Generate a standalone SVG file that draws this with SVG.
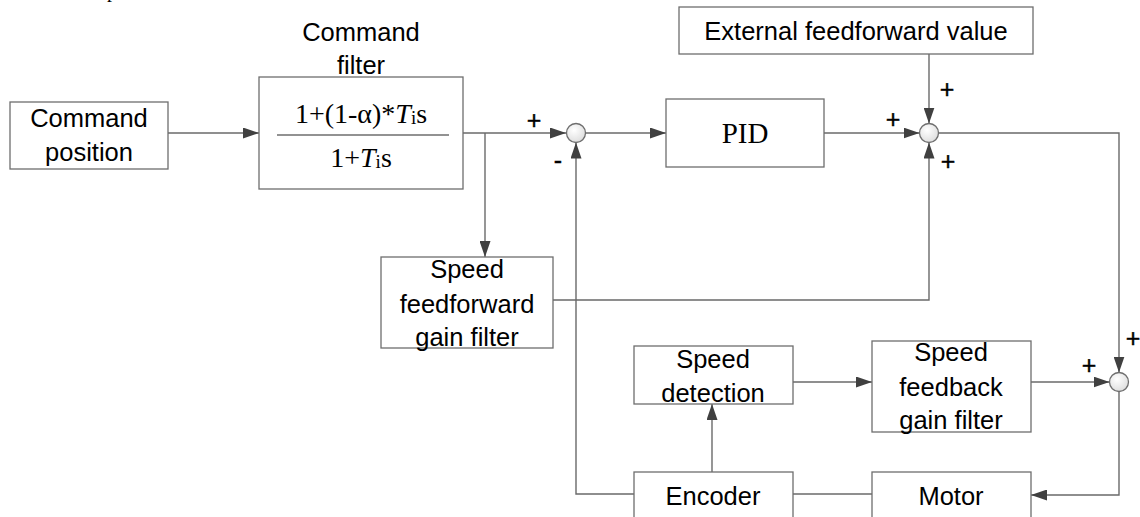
<svg xmlns="http://www.w3.org/2000/svg" width="1140" height="517" viewBox="0 0 1140 517">
<defs>
<marker id="arr" markerUnits="userSpaceOnUse" markerWidth="16" markerHeight="11" refX="16" refY="5.5" orient="auto">
<path d="M0,0 L16,5.5 L0,11 z" fill="#404040"/>
</marker>
<radialGradient id="sumg" cx="0.4" cy="0.35" r="0.7">
<stop offset="0" stop-color="#ffffff"/>
<stop offset="1" stop-color="#dcdcdc"/>
</radialGradient>
<style>
.box{fill:#fff;stroke:#6e6e6e;stroke-width:1.3}
.sum{fill:url(#sumg);stroke:#6e6e6e;stroke-width:1.3}
.ln{fill:none;stroke:#6a6a6a;stroke-width:1.4}
.t{font-family:"Liberation Sans",Arial,sans-serif;font-size:25.5px;fill:#000;text-anchor:middle}
.m{font-family:"Liberation Serif","Times New Roman",serif;font-size:28px;fill:#000;text-anchor:middle}
.sub{font-size:19px}
.pid{font-size:29px}
.sg{font-family:"Liberation Sans",Arial,sans-serif;font-size:25px;fill:#000;text-anchor:middle;stroke:#000;stroke-width:0.4}
</style>
</defs>
<rect width="1140" height="517" fill="#fff"/>
<text x="107" y="-3" font-family="Liberation Serif,serif" font-size="20" fill="#000">p</text>

<g id="connectors">
<line class="ln" x1="168" y1="133" x2="259" y2="133" marker-end="url(#arr)"/>
<line class="ln" x1="463" y1="133" x2="566" y2="133" marker-end="url(#arr)"/>
<line class="ln" x1="485" y1="133" x2="485" y2="257" marker-end="url(#arr)"/>
<line class="ln" x1="585.5" y1="133" x2="666" y2="133" marker-end="url(#arr)"/>
<line class="ln" x1="824" y1="133" x2="919.5" y2="133" marker-end="url(#arr)"/>
<line class="ln" x1="929" y1="54" x2="929" y2="123.5" marker-end="url(#arr)"/>
<polyline class="ln" points="553,300 929,300 929,142.5" marker-end="url(#arr)"/>
<polyline class="ln" points="938.5,133 1119,133 1119,372.5" marker-end="url(#arr)"/>
<line class="ln" x1="1031" y1="382" x2="1109.5" y2="382" marker-end="url(#arr)"/>
<line class="ln" x1="793" y1="382" x2="872" y2="382" marker-end="url(#arr)"/>
<line class="ln" x1="712" y1="472" x2="712" y2="404" marker-end="url(#arr)"/>
<polyline class="ln" points="634,494 576,494 576,142.5" marker-end="url(#arr)"/>
<line class="ln" x1="793" y1="494" x2="872" y2="494"/>
<polyline class="ln" points="1119,391.5 1119,495 1031,495" marker-end="url(#arr)"/>
</g>

<g id="command-position">
<rect class="box" x="10" y="102" width="158" height="67"/>
<text class="t" x="89" y="127">Command</text>
<text class="t" x="89" y="161">position</text>
</g>

<g id="command-filter">
<text class="t" x="361" y="41">Command</text>
<text class="t" x="361" y="74">filter</text>
<rect class="box" x="259" y="77" width="204" height="112"/>
<text class="m" x="361" y="123">1+(1-α)*<tspan font-style="italic">T</tspan><tspan class="sub" dy="1">i</tspan><tspan dy="-1">s</tspan></text>
<line x1="277" y1="135" x2="449" y2="135" stroke="#6e6e6e" stroke-width="1.3"/>
<text class="m" x="361" y="167">1+<tspan font-style="italic">T</tspan><tspan class="sub" dy="1">i</tspan><tspan dy="-1">s</tspan></text>
</g>

<g id="sum1">
<circle class="sum" cx="576" cy="133" r="9.5"/>
<text class="sg" x="534" y="129">+</text>
<text class="sg" x="558" y="169">-</text>
</g>

<g id="pid">
<rect class="box" x="666" y="99" width="158" height="68"/>
<text class="m pid" x="745" y="143">PID</text>
</g>

<g id="external-feedforward">
<rect class="box" x="679" y="7" width="354" height="47"/>
<text class="t" x="856" y="40">External feedforward value</text>
</g>

<g id="sum2">
<circle class="sum" cx="929" cy="133" r="9.5"/>
<text class="sg" x="893" y="128">+</text>
<text class="sg" x="947" y="98">+</text>
<text class="sg" x="948" y="170">+</text>
</g>

<g id="speed-feedforward-gain-filter">
<rect class="box" x="381" y="257" width="172" height="91"/>
<text class="t" x="467" y="278">Speed</text>
<text class="t" x="467" y="313">feedforward</text>
<text class="t" x="467" y="346">gain filter</text>
</g>

<g id="speed-detection">
<rect class="box" x="634" y="346" width="159" height="58"/>
<text class="t" x="713" y="368">Speed</text>
<text class="t" x="713" y="402">detection</text>
</g>

<g id="speed-feedback-gain-filter">
<rect class="box" x="872" y="341" width="159" height="91"/>
<text class="t" x="951" y="361">Speed</text>
<text class="t" x="951" y="396">feedback</text>
<text class="t" x="951" y="429">gain filter</text>
</g>

<g id="sum3">
<circle class="sum" cx="1119" cy="382" r="9.5"/>
<text class="sg" x="1133" y="347">+</text>
<text class="sg" x="1089" y="374">+</text>
</g>

<g id="encoder">
<rect class="box" x="634" y="472" width="159" height="60"/>
<text class="t" x="713" y="505">Encoder</text>
</g>

<g id="motor">
<rect class="box" x="872" y="472" width="159" height="60"/>
<text class="t" x="951" y="505">Motor</text>
</g>
</svg>
